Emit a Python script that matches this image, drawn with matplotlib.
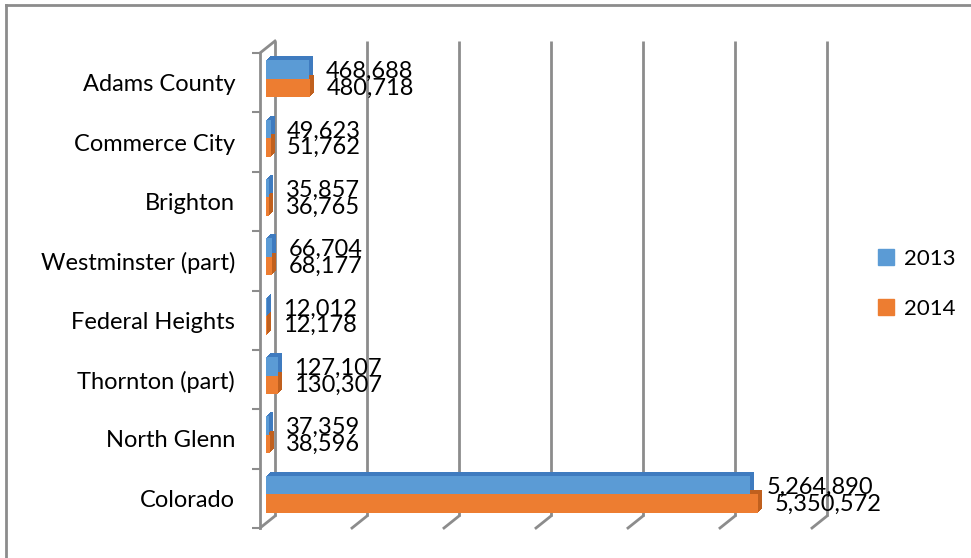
import matplotlib
matplotlib.use("Agg")
import matplotlib.pyplot as plt
from matplotlib.patches import Patch
from matplotlib.lines import Line2D

plt.rcParams['font.family'] = ['Lato', 'DejaVu Sans']

places = ["Adams County", "Commerce City", "Brighton", "Westminster (part)",
          "Federal Heights", "Thornton (part)", "North Glenn", "Colorado"]
pop_2013 = [468688, 49623, 35857, 66704, 12012, 127107, 37359, 5264890]
pop_2014 = [480718, 51762, 36765, 68177, 12178, 130307, 38596, 5350572]
years = ["2013", "2014"]
grid_ticks = [0, 1000000, 2000000, 3000000, 4000000, 5000000, 6000000]

blue, blue_side = "#5b9bd5", "#3f7bbf"
orange, orange_side = "#ed7d31", "#c0601e"
grey = "#8c8c8c"
fs = 17

fig = plt.figure(figsize=(9.71, 5.58), dpi=100)
ax = fig.add_axes([260 / 971, 30 / 558, 552 / 971, 475 / 558])
ax.set_xlim(0, 6000000)
ax.set_ylim(7.5, -0.5)

# one screen pixel expressed in data units, for the fake 3D depth
px_x = 6000000 / 552
px_y = 8 / 475
wall_dx, wall_dy = 15 * px_x, 12 * px_y
bar_dx, bar_dy = 6 * px_x, 4 * px_y
depth = 4
h = 18.5 * px_y

# back wall gridlines and floor edges
for v in grid_ticks:
    ax.plot([v + wall_dx] * 2, [-0.5 - wall_dy, 7.5 - wall_dy], color=grey,
            lw=2, clip_on=False, solid_capstyle='butt', zorder=1)
    ax.plot([v, v + wall_dx], [7.5, 7.5 - wall_dy], color=grey, lw=2,
            clip_on=False, zorder=1)
ax.plot([0, wall_dx], [-0.5, -0.5 - wall_dy], color=grey, lw=2,
        clip_on=False, zorder=1)

pos = list(range(len(places)))
y_blue = [p - h / 2 - bar_dy for p in pos]
y_orange = [p + h / 2 - bar_dy for p in pos]

# extruded sides first, front faces on top
for k in range(1, depth + 1):
    ax.barh([y - k * px_y for y in y_blue], pop_2013, height=h,
            left=bar_dx + k * px_x, color=blue_side, zorder=2)
    ax.barh([y - k * px_y for y in y_orange], pop_2014, height=h,
            left=bar_dx + k * px_x, color=orange_side, zorder=2)
ax.barh(y_blue, pop_2013, height=h, left=bar_dx, color=blue, zorder=3)
ax.barh(y_orange, pop_2014, height=h, left=bar_dx, color=orange, zorder=3)

for p, a, b in zip(pos, pop_2013, pop_2014):
    ax.annotate(f"{a:,}", (a, p), xytext=(16, 8), textcoords='offset points',
                va='center', ha='left', fontsize=fs, zorder=4)
    ax.annotate(f"{b:,}", (b, p), xytext=(16, -4), textcoords='offset points',
                va='center', ha='left', fontsize=fs, zorder=4)

ax.set_yticks(pos)
ax.set_yticklabels(places, fontsize=fs)
ax.set_yticks([p - 0.5 for p in pos] + [7.5], minor=True)
ax.tick_params(axis='y', which='major', length=0, pad=18)
ax.tick_params(axis='y', which='minor', length=6, width=1.5, color=grey)
ax.set_xticks([])
for side in ["top", "right", "bottom"]:
    ax.spines[side].set_visible(False)
ax.spines["left"].set_color(grey)
ax.spines["left"].set_linewidth(2)
ax.patch.set_visible(False)

handles = [Patch(color=blue), Patch(color=orange)]
fig.legend(handles, years, loc='center left', bbox_to_anchor=(858 / 971, 1 - 284 / 558),
           frameon=False, fontsize=16, handlelength=0.7, handleheight=0.7,
           handletextpad=0.45, labelspacing=1.35)

# chart area border (top and left edges)
fig.add_artist(Line2D([6 / 971, 1], [1 - 5 / 558] * 2, color=grey, lw=2))
fig.add_artist(Line2D([6 / 971] * 2, [0, 1 - 5 / 558], color=grey, lw=2))

fig.savefig("out.png", dpi=100)
